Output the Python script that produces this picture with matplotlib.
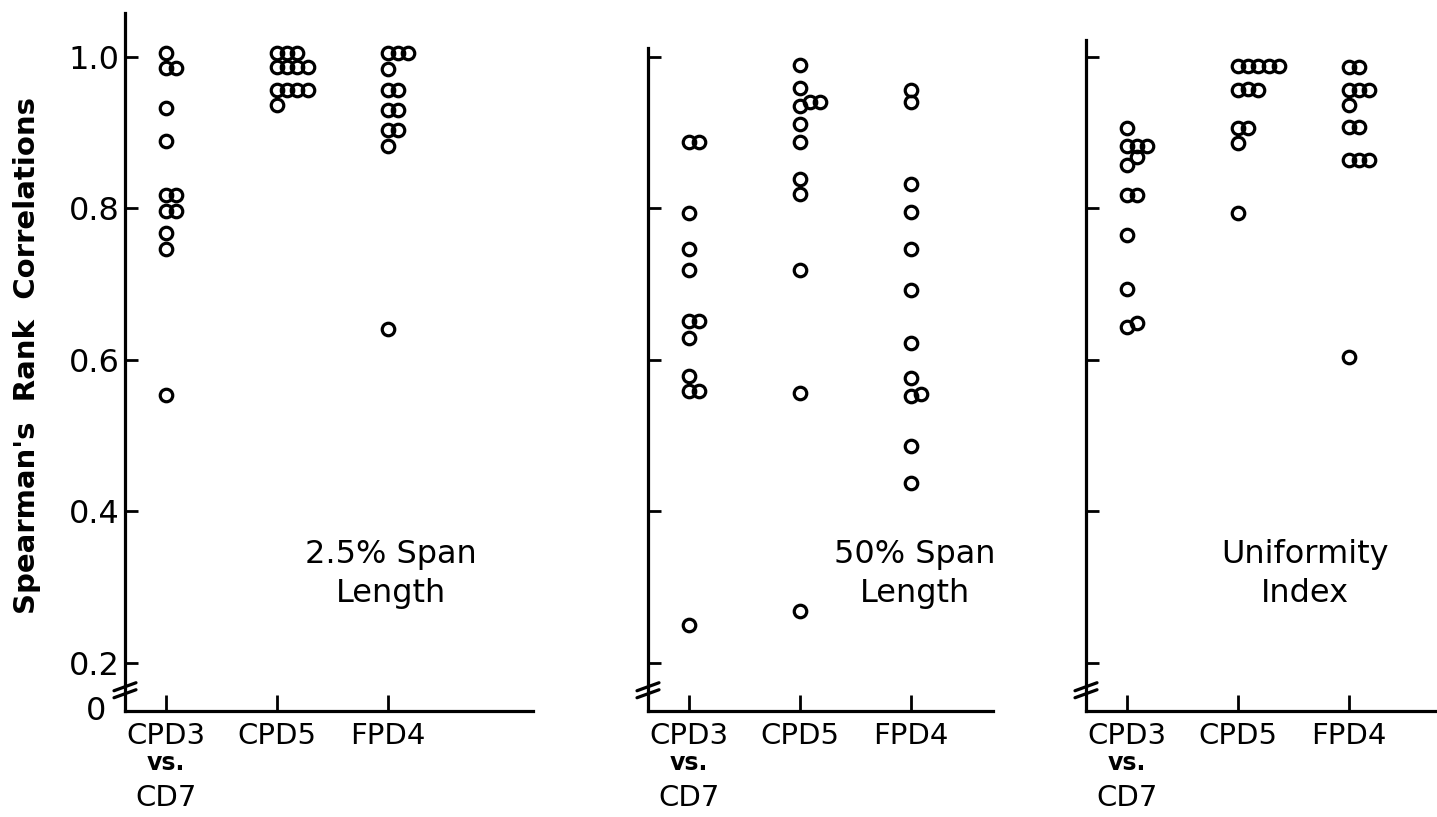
import matplotlib.pyplot as plt

# ---- data ---- #
categories = ["CPD3", "CPD5", "FPD4"]
panel_titles = ["2.5% Span\nLength", "50% Span\nLength", "Uniformity\nIndex"]

# 2.5% span length
span25_cpd3 = [1.005, 0.986, 0.986, 0.932, 0.889, 0.818, 0.818, 0.797, 0.797, 0.767, 0.747, 0.554]
span25_cpd5 = [1.005, 1.005, 1.005, 0.987, 0.987, 0.987, 0.987, 0.956, 0.956, 0.956, 0.956, 0.936]
span25_fpd4 = [1.005, 1.005, 1.005, 0.984, 0.956, 0.956, 0.930, 0.930, 0.903, 0.903, 0.882, 0.641]

# 50% span length
span50_cpd3 = [0.888, 0.888, 0.794, 0.747, 0.719, 0.651, 0.651, 0.629, 0.579, 0.559, 0.559, 0.250]
span50_cpd5 = [0.989, 0.959, 0.935, 0.940, 0.940, 0.912, 0.888, 0.839, 0.819, 0.719, 0.557, 0.268]
span50_fpd4 = [0.957, 0.940, 0.832, 0.795, 0.747, 0.693, 0.623, 0.576, 0.552, 0.555, 0.487, 0.438]

# uniformity index
unif_cpd3 = [0.906, 0.883, 0.883, 0.883, 0.858, 0.868, 0.818, 0.818, 0.765, 0.694, 0.643, 0.649]
unif_cpd5 = [0.988, 0.988, 0.988, 0.988, 0.988, 0.956, 0.958, 0.956, 0.906, 0.906, 0.887, 0.794]
unif_fpd4 = [0.987, 0.987, 0.957, 0.957, 0.957, 0.936, 0.907, 0.907, 0.864, 0.864, 0.864, 0.604]

panels = [
    [span25_cpd3, span25_cpd5, span25_fpd4],
    [span50_cpd3, span50_cpd5, span50_fpd4],
    [unif_cpd3, unif_cpd5, unif_fpd4],
]

yticks = [0.2, 0.4, 0.6, 0.8, 1.0]

# ---- layout ---- #
W, H = 1437, 817
YMIN, YMAX = 0.1366, 1.058
BREAK_Y = 0.164
X_PX = 111.0           # pixels per category step
FONT = ['Liberation Sans Narrow', 'DejaVu Sans']

plt.rcParams['font.family'] = FONT

fig = plt.figure(figsize=(W / 100, H / 100), dpi=100)
fig.patch.set_facecolor('white')

# left edge, right edge, top of y-axis line (pixels)
boxes = [(125, 533, 1.058), (648, 993, 1.012), (1086, 1437, 1.022)]
ax_bottom_px, ax_top_px = 711, 13
y_px = (ax_bottom_px - ax_top_px) / (YMAX - YMIN)


def spread(values, gap=11.0, step=0.092):
    '''side-by-side offsets for points that would overlap'''
    placed = []
    offs = []
    for v in values:
        k = 0
        while any(kk == k and abs(v - pv) * y_px < gap for pv, kk in placed):
            k += 1
        placed.append((v, k))
        offs.append(k * step)
    return offs


for i, (left, right, top) in enumerate(boxes):
    ax = fig.add_axes([left / W, (H - ax_bottom_px) / H,
                       (right - left) / W, (ax_bottom_px - ax_top_px) / H])
    x0 = -41.0 / X_PX
    ax.set_xlim(x0, x0 + (right - left) / X_PX)
    ax.set_ylim(YMIN, YMAX)

    for j, vals in enumerate(panels[i]):
        xs = [j + o for o in spread(vals)]
        ax.plot(xs, vals, 'o', ms=9, mfc='none', mec='black', mew=2.3, clip_on=False)

    for s in ['top', 'right']:
        ax.spines[s].set_visible(False)
    ax.spines['left'].set_linewidth(2.3)
    ax.spines['bottom'].set_linewidth(2.3)
    ax.spines['left'].set_bounds(YMIN, top)

    ax.set_xticks([0, 1, 2], categories)
    ax.tick_params(axis='x', direction='in', length=11.5, width=2.0, pad=8, labelsize=21)
    ax.set_yticks(yticks)
    ax.tick_params(axis='y', direction='in', length=9.5, width=2.0, pad=4, labelsize=23)
    if i == 0:
        ax.set_yticklabels(['0.2', '0.4', '0.6', '0.8', '1.0'])
        ax.text(-0.07, YMIN, '0', transform=ax.get_yaxis_transform(), ha='center',
                va='center', fontsize=23)
        ax.set_ylabel("Spearman's  Rank  Correlations", fontsize=21, fontweight='bold')
        ax.yaxis.set_label_coords(-0.205, 0.51)
    else:
        ax.set_yticklabels([])

    # "vs. CD7" under the first category
    tr = ax.get_xaxis_transform()
    ax.text(0, -0.0745, 'vs.', transform=tr, ha='center', va='center',
            fontsize=17, fontweight='bold')
    ax.text(0, -0.124, 'CD7', transform=tr, ha='center', va='center', fontsize=21)

    # broken-axis marks
    dx = 11.0 / X_PX
    for off in (-3.5, 3.5):
        ax.plot([x0 - dx, x0 + dx],
                [BREAK_Y + (off - 4.0) / y_px, BREAK_Y + (off + 4.0) / y_px],
                color='black', lw=2.3, clip_on=False, solid_capstyle='round')

    # panel label
    tx = [391, 915, 1305][i]
    ax.text(x0 + (tx - left) / X_PX, 1 - (574 - 57) / 757.5, panel_titles[i],
            ha='center', va='center', fontsize=23, linespacing=1.35)

fig.savefig('out.png', dpi=100, facecolor='white')
